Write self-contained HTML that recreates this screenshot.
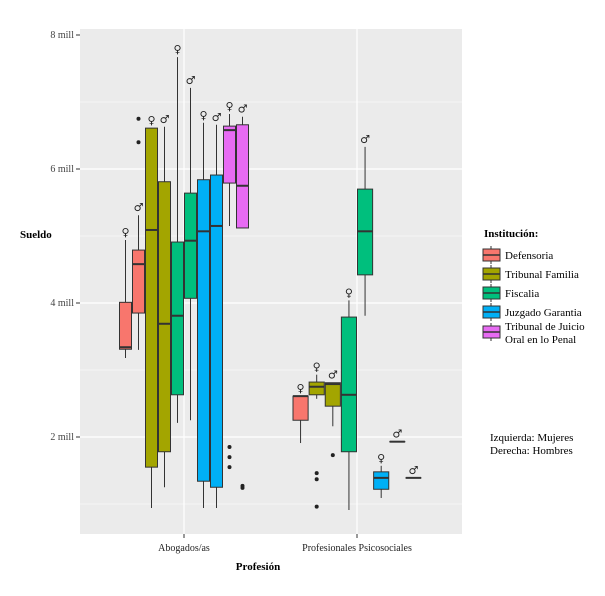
<!DOCTYPE html>
<html><head><meta charset="utf-8"><style>
body{margin:0;background:#fff}
svg{display:block;font-family:"Liberation Serif",serif}
</style></head><body>
<svg id="chart" width="605" height="596">
<rect x="80" y="29" width="382" height="505" fill="#EBEBEB"/>
<g id="grid"></g><g id="marks"></g><g id="axes"></g>
<g font-size="11" fill="#000">
<text x="484" y="237" font-weight="bold">Institución:</text>
<g id="legend"></g>
</g>
<g font-size="11">
<text x="490" y="441">Izquierda: Mujeres</text>
<text x="490" y="454">Derecha: Hombres</text>
</g>
<text x="20" y="238" font-size="11" font-weight="bold">Sueldo</text>
<text x="258" y="570" font-size="11" font-weight="bold" text-anchor="middle">Profesión</text>
</svg>
<script>
const categories=["Abogados/as","Profesionales Psicosociales"];
const institutions=["Defensoria","Tribunal Familia","Fiscalia","Juzgado Garantia","Tribunal de Juicio|Oral en lo Penal"];
const colors=["#F8766D","#A3A500","#00BF7D","#00B0F6","#E76BF3"];
const yTicks=[2,4,6,8];
const yTickLabels=["2 mill","4 mill","6 mill","8 mill"];
// [category, institution, sex, low, q1, median, q3, high]
const boxes=[
[0,0,"F",3.18,3.31,3.34,4.01,4.94],
[0,0,"M",3.30,3.85,4.58,4.79,5.31],
[0,1,"F",0.94,1.55,5.09,6.61,6.61],
[0,1,"M",1.25,1.78,3.69,5.81,6.63],
[0,2,"F",2.21,2.63,3.81,4.91,7.67],
[0,2,"M",2.25,4.07,4.93,5.64,7.21],
[0,3,"F",0.94,1.34,5.07,5.84,6.69],
[0,3,"M",0.94,1.25,5.15,5.91,6.66],
[0,4,"F",5.15,5.79,6.58,6.64,6.82],
[0,4,"M",5.12,5.12,5.75,6.66,6.78],
[1,0,"F",1.91,2.25,2.61,2.61,2.61],
[1,1,"F",2.57,2.63,2.75,2.82,2.93],
[1,1,"M",2.16,2.46,2.79,2.81,2.81],
[1,2,"F",0.91,1.78,2.63,3.79,4.04],
[1,2,"M",3.81,4.42,5.07,5.70,6.33],
[1,3,"F",1.09,1.22,1.39,1.48,1.57],
[1,3,"M",1.93,1.93,1.93,1.93,1.93],
[1,4,"M",1.39,1.39,1.39,1.39,1.39]
];
const outliers=[[1,6.75],[1,6.40],[8,1.85],[8,1.70],[8,1.55],[9,1.27],[9,1.24],[11,1.46],[11,1.37],[11,0.96],[12,1.73]];
const NS="http://www.w3.org/2000/svg";
function el(t,a,p){const e=document.createElementNS(NS,t);for(const k in a)e.setAttribute(k,a[k]);p.appendChild(e);return e;}
const y=v=>35+(8-v)*67;
const catX=[184,357], catW=[130,129];
const grid=document.getElementById('grid'),marks=document.getElementById('marks'),axes=document.getElementById('axes');
for(let v=1;v<=7.5;v+=1){let e=el('line',{x1:80,x2:462,y1:y(v),y2:y(v),stroke:'#fff','stroke-width':(v%2?0.6:1.2)},grid);

}
catX.forEach(cx=>{let e=el('line',{x1:cx,x2:cx,y1:29,y2:534,stroke:'#fff','stroke-width':1.2},grid);

});
yTicks.forEach((t,i)=>{el('line',{x1:76,x2:80,y1:y(t),y2:y(t),stroke:'#333'},axes);
let e=el('text',{x:74,y:y(t)+3,'text-anchor':'end','font-size':10,fill:'#444'},axes);e.textContent=yTickLabels[i];

});
categories.forEach((c,i)=>{el('line',{x1:catX[i],x2:catX[i],y1:534,y2:538,stroke:'#333'},axes);
let e=el('text',{x:catX[i],y:551,'text-anchor':'middle','font-size':10,fill:'#222'},axes);e.textContent=c;

});
const counts=[0,0];boxes.forEach(b=>counts[b[0]]++);
const idx=[0,0];const pos=[];
boxes.forEach(b=>{const c=b[0];const w=catW[c]/counts[c];const x0=catX[c]-catW[c]/2+idx[c]*w;idx[c]++;pos.push([x0,w]);});
function c2(b){return categories[b[0]].split(/[ \/]/)[0].toLowerCase()+'-'+b[1]+'-'+b[2].toLowerCase();}
boxes.forEach((b,i)=>{
const [x0,w]=pos[i];const cx=x0+w/2;const col=colors[b[1]];
const g=el('g',{},marks);


el('line',{x1:cx,x2:cx,y1:y(b[7]),y2:y(b[3]),stroke:'#333','stroke-width':1},g);
el('rect',{x:x0+0.5,y:y(b[6]),width:w-1,height:Math.max(y(b[4])-y(b[6]),0.1),fill:col,stroke:'#333','stroke-width':1},g);
el('line',{x1:x0+0.5,x2:x0+w-0.5,y1:y(b[5]),y2:y(b[5]),stroke:'#333','stroke-width':2},g);
const s=el('text',{x:cx,y:y(b[7])-4,'text-anchor':'middle','font-size':11,'font-weight':'bold',fill:'#222','font-family':'DejaVu Sans,sans-serif'},g);
s.textContent=b[2]==="F"?"♀":"♂";
});
outliers.forEach(o=>{const [x0,w]=pos[o[0]];let e=el('circle',{cx:x0+w/2,cy:y(o[1]),r:2,fill:'#222'},marks);

});
const lg=document.getElementById('legend');const rowY=[255,274,293,312,332];
institutions.forEach((n,i)=>{const g=el('g',{},lg);


const cy=rowY[i];
el('line',{x1:491,x2:491,y1:cy-9,y2:cy+9,stroke:'#333'},g);
el('rect',{x:483,y:cy-6,width:17,height:12,fill:colors[i],stroke:'#333'},g);
el('line',{x1:483,x2:500,y1:cy,y2:cy,stroke:'#333','stroke-width':1.5},g);
const parts=n.split('|');parts.forEach((p,j)=>{const t=el('text',{x:505,y:cy+4-(parts.length>1?6:0)+j*13,'font-size':11},g);t.textContent=p;});
});
</script>
</body></html>
